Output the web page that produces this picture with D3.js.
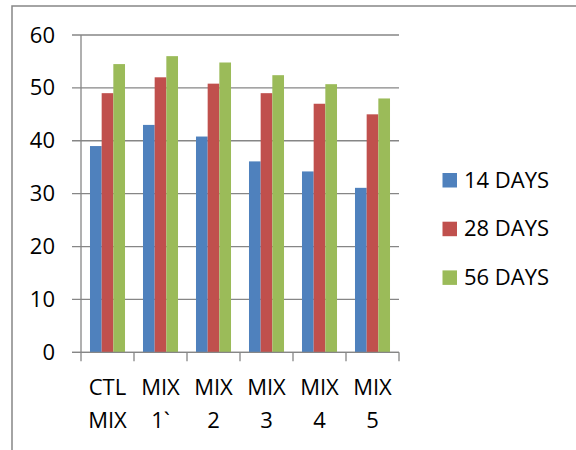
<!DOCTYPE html>
<html>
<head>
<meta charset="utf-8">
<script src="https://cdn.jsdelivr.net/npm/d3@7"></script>
<style>
  html, body { margin: 0; padding: 0; background: #fff; }
  svg text { font-family: "Open Sans", "Liberation Sans", sans-serif; fill: #000; }
</style>
</head>
<body>
<svg id="chart" width="576" height="450"></svg>
<script>
// Compressive strength by mix and curing age
const categories = ["CTL MIX", "MIX 1`", "MIX 2", "MIX 3", "MIX 4", "MIX 5"];
const seriesNames = ["14 DAYS", "28 DAYS", "56 DAYS"];
const days14 = [39, 43, 40.8, 36.1, 34.2, 31.1];
const days28 = [49, 52, 50.8, 49, 47, 45];
const days56 = [54.5, 56, 54.8, 52.4, 50.7, 48];
const yTicks = [0, 10, 20, 30, 40, 50, 60];
const colors = ["#4F81BD", "#C0504D", "#9BBB59"];

const seriesValues = [days14, days28, days56];

const svg = d3.select("#chart");
const gridColor = "#868686";

// outer chart border
svg.append("rect")
  .attr("x", 12).attr("y", 6)
  .attr("width", 600).attr("height", 500)
  .attr("fill", "none")
  .attr("stroke", gridColor)
  .attr("stroke-width", 1.5);

const plot = { left: 81, right: 399, top: 35, bottom: 352.3 };

const y = d3.scaleLinear().domain([0, 60]).range([plot.bottom, plot.top]);
const x0 = d3.scaleBand().domain(categories).range([plot.left, plot.right]).paddingInner(0).paddingOuter(0);
const x1 = d3.scaleBand().domain(seriesNames).range([0, x0.bandwidth()]).paddingInner(0).paddingOuter(0.77);
const color = d3.scaleOrdinal().domain(seriesNames).range(colors);

// horizontal gridlines (extend left through the tick marks)
svg.append("g").selectAll("line")
  .data(yTicks)
  .join("line")
  .attr("x1", plot.left - 9).attr("x2", plot.right)
  .attr("y1", d => y(d)).attr("y2", d => y(d))
  .attr("stroke", gridColor)
  .attr("stroke-width", 1.3);

// y axis labels
const yAxis = d3.axisLeft(y).tickValues(yTicks).tickSize(9).tickPadding(17).tickFormat(d3.format("d"));
const yg = svg.append("g").attr("transform", `translate(${plot.left},0)`).call(yAxis);
yg.select(".domain").remove();
yg.selectAll(".tick line").remove();
yg.selectAll("text").style("font-size", "22px").attr("fill", "#000");

// bars
const rows = categories.map((c, i) => ({ cat: c, vals: seriesNames.map((s, j) => ({ key: s, value: seriesValues[j][i] })) }));
const groups = svg.append("g").selectAll("g")
  .data(rows)
  .join("g")
  .attr("transform", d => `translate(${x0(d.cat)},0)`);
groups.selectAll("rect")
  .data(d => d.vals)
  .join("rect")
  .attr("x", d => x1(d.key))
  .attr("width", x1.bandwidth())
  .attr("y", d => y(d.value))
  .attr("height", d => y(0) - y(d.value))
  .attr("fill", d => color(d.key));

// axis lines
svg.append("line")
  .attr("x1", plot.left).attr("x2", plot.left)
  .attr("y1", plot.top).attr("y2", plot.bottom)
  .attr("stroke", gridColor).attr("stroke-width", 1.3);
svg.append("line")
  .attr("x1", plot.left - 9).attr("x2", plot.right)
  .attr("y1", plot.bottom).attr("y2", plot.bottom)
  .attr("stroke", gridColor).attr("stroke-width", 1.3);

// category tick marks at band boundaries
const boundaries = categories.map(c => x0(c)).concat([plot.right]);
svg.append("g").selectAll("line")
  .data(boundaries)
  .join("line")
  .attr("x1", d => d).attr("x2", d => d)
  .attr("y1", plot.bottom).attr("y2", plot.bottom + 9)
  .attr("stroke", gridColor).attr("stroke-width", 1.3);

// category labels on two lines
const xl = svg.append("g").selectAll("text")
  .data(categories)
  .join("text")
  .attr("text-anchor", "middle")
  .style("font-size", "22px")
  .attr("transform", d => `translate(${x0(d) + x0.bandwidth() / 2},0)`);
xl.selectAll("tspan")
  .data(d => d.split(" "))
  .join("tspan")
  .attr("x", 0)
  .attr("y", (d, i) => 395 + i * 33.3)
  .text(d => d);

// legend
const legend = svg.append("g").selectAll("g")
  .data(seriesNames)
  .join("g")
  .attr("transform", (d, i) => `translate(442.5,${173 + i * 48.7})`);
legend.append("rect")
  .attr("width", 14.5).attr("height", 14.5)
  .attr("fill", d => color(d));
legend.append("text")
  .attr("x", 21.5).attr("y", 14.5)
  .style("font-size", "22px")
  .text(d => d);
</script>
</body>
</html>
